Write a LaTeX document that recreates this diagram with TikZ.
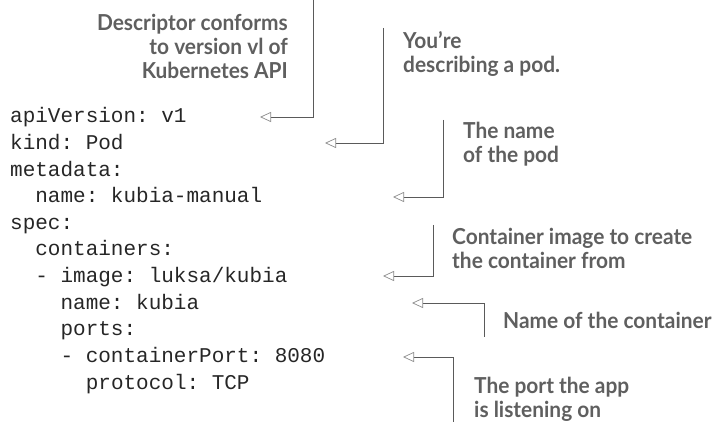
\documentclass[tikz,border=0pt]{standalone}
\usepackage{fontspec}
\setmonofont{Liberation Mono}
\newfontfamily\notefont[FakeStretch=0.95]{Lato}
\usetikzlibrary{arrows.meta}
\definecolor{notegray}{HTML}{5F5F5F}
\definecolor{linegray}{HTML}{5A5A5A}
\tikzset{
  code/.style={font=\ttfamily\fontsize{21}{21}\selectfont, text=black!85, anchor=base west, inner sep=0},
  note/.style={font=\notefont\bfseries\fontsize{22}{24}\selectfont, text=notegray, inner sep=0},
  callout/.style={draw=linegray, line width=0.9pt, -{Triangle[open, length=11pt, width=10pt, line width=0.7pt, color=linegray!70]}}
}

\begin{document}
\begin{tikzpicture}[x=1pt, y=-1pt]
		\useasboundingbox (0,0) rectangle (713,422);

		% Descriptor lines
		\foreach \i/\ind/\txt in {0/0/{apiVersion: v1}, 1/0/{kind: Pod}, 2/0/{metadata:},
			3/1/{name: kubia-manual}, 4/0/{spec:}, 5/1/{containers:}, 6/1/{- image: luksa/kubia},
			7/2/{name: kubia}, 8/2/{ports:}, 9/2/{- containerPort: 8080}, 10/3/{protocol: TCP}}
		{
			\node[code] (l\i) at ({10+25.2*\ind}, {123+26.6*\i}) {\txt};
		}

		% Notes
		\node[note, anchor=north east, align=right] (apinote) at (288,14) {Descriptor conforms\\to version vl of\\Kubernetes API};
		\node[note, anchor=north west, align=left] (kindnote) at (403,31) {You’re\\describing a pod.};
		\node[note, anchor=north west, align=left] (namenote) at (463,122) {The name\\of the pod};
		\node[note, anchor=north west, align=left] (imagenote) at (452,228) {Container image to create\\the container from};
		\node[note, anchor=north west, align=left] (cnamenote) at (503,312) {Name of the container};
		\node[note, anchor=north west, align=left] (portnote) at (474,377) {The port the app\\is listening on};

		%% Callout ends
		\coordinate (apifrom) at (313,0);    \coordinate (apito) at (260,117);
		\coordinate (kindfrom) at (383,28);  \coordinate (kindto) at (325,143);
		\coordinate (namefrom) at (443,120); \coordinate (nameto) at (393,197);
		\coordinate (imagefrom) at (433,225); \coordinate (imageto) at (383,276);
		\coordinate (cnamefrom) at (484,337); \coordinate (cnameto) at (412,303);
		\coordinate (portfrom) at (453,422); \coordinate (portto) at (403,357);

		%% Callouts
		\foreach \c in {api, kind, name, image, cname, port}
			\draw[callout] (\c from) |- (\c to);
	\end{tikzpicture}
\end{document}
